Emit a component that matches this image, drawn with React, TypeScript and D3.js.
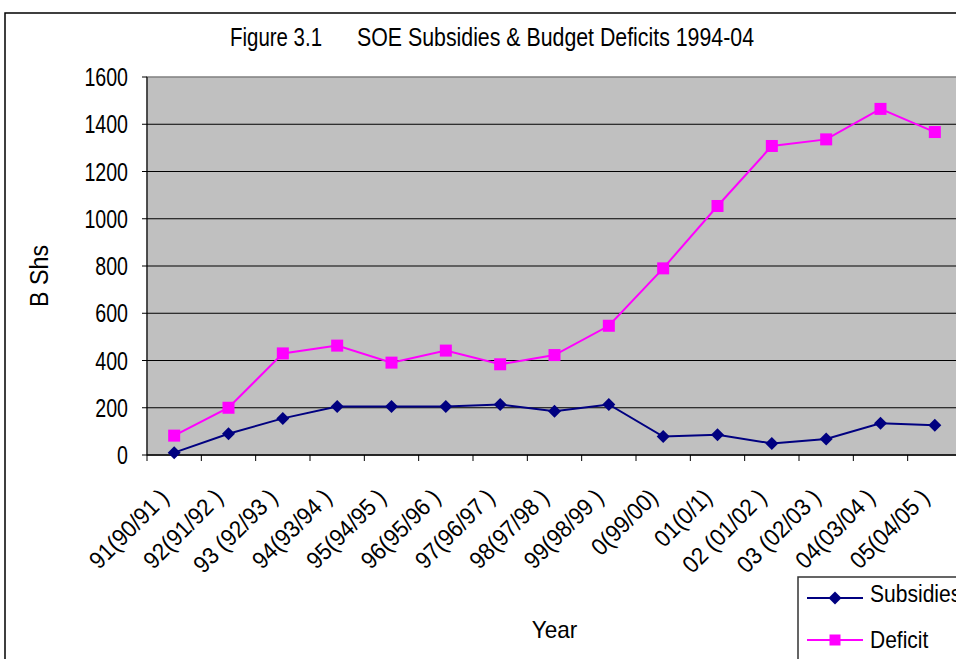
import React from "react";
import * as d3 from "d3";

const categories = [
  "91(90/91 )", "92(91/92 )", "93 (92/93 )", "94(93/94 )", "95(94/95 )",
  "96(95/96 )", "97(96/97 )", "98(97/98 )", "99(98/99 )", "0(99/00)",
  "01(0/1)", "02 (01/02 )", "03 (02/03 )", "04(03/04 )", "05(04/05 )",
];
const subsidies = [10, 90, 155, 205, 205, 205, 214, 185, 214, 78, 86, 49, 68, 134, 126];
const deficit = [82, 200, 430, 463, 391, 442, 384, 423, 547, 790, 1054, 1308, 1336, 1465, 1367];
const yTicks = [0, 200, 400, 600, 800, 1000, 1200, 1400, 1600];

const W = 956;
const H = 659;
const FONT = "'Liberation Sans', Arial, sans-serif";

export default function App() {
  const left = 147;
  const right = 962;
  const top = 77;
  const bottom = 455;

  const x = d3.scaleBand<string>().domain(categories).range([left, right]).padding(0);
  const y = d3.scaleLinear().domain([0, 1600]).range([bottom, top]);
  const cx = (c: string) => (x(c) as number) + x.bandwidth() / 2;

  const line = d3
    .line<number>()
    .x((_, i) => cx(categories[i]))
    .y((d) => y(d));

  const diamond = (px: number, py: number, r: number) =>
    `M${px},${py - r}L${px + r},${py}L${px},${py + r}L${px - r},${py}Z`;

  return (
    <svg
      width={W}
      height={H}
      style={{ position: "absolute", left: 0, top: 0, background: "#fff" }}
      fontFamily={FONT}
    >
      <rect x={0} y={0} width={W} height={H} fill="#fff" />
      {/* outer chart border */}
      <rect x={5} y={13} width={W + 20} height={H + 20} fill="none" stroke="#000" strokeWidth={1.5} />

      {/* title */}
      <text x={230} y={46} fontSize={25} fill="#000" textLength={92} lengthAdjust="spacingAndGlyphs">
        Figure 3.1
      </text>
      <text x={357} y={46} fontSize={25} fill="#000" textLength={397} lengthAdjust="spacingAndGlyphs">
        SOE Subsidies &amp; Budget Deficits 1994-04
      </text>

      {/* plot area */}
      <rect x={left} y={top} width={right - left} height={bottom - top} fill="#c0c0c0" stroke="#808080" strokeWidth={1.5} />

      {/* gridlines */}
      {yTicks.filter((t) => t > 0 && t < 1600).map((t) => (
        <line key={t} x1={left} x2={right} y1={y(t)} y2={y(t)} stroke="#000" strokeWidth={1} />
      ))}

      {/* y axis */}
      <line x1={left} x2={left} y1={top} y2={bottom} stroke="#000" strokeWidth={1} />
      {yTicks.map((t) => (
        <g key={t}>
          <line x1={left - 5} x2={left} y1={y(t)} y2={y(t)} stroke="#000" />
          <text
            x={128}
            y={y(t) + 9}
            textAnchor="end"
            fontSize={25}
            fill="#000"
            textLength={String(t).length * 10.9}
            lengthAdjust="spacingAndGlyphs"
          >
            {t}
          </text>
        </g>
      ))}

      {/* x axis */}
      <line x1={left} x2={right} y1={bottom} y2={bottom} stroke="#000" strokeWidth={1.5} />
      {categories.map((c, i) => (
        <line key={"t" + i} x1={x(c) as number} x2={x(c) as number} y1={bottom} y2={bottom + 6} stroke="#000" />
      ))}
      {categories.map((c, i) => (
        <text
          key={"l" + i}
          transform={`translate(${cx(c) - 4},${499}) rotate(-45) scale(0.92,1)`}
          textAnchor="end"
          fontSize={24}
          fill="#000"
          style={{ whiteSpace: "pre" }}
        >
          {c}
        </text>
      ))}

      {/* axis titles */}
      <text
        transform={`translate(48,276) rotate(-90)`}
        textAnchor="middle"
        fontSize={25}
        fill="#000"
        textLength={62}
        lengthAdjust="spacingAndGlyphs"
      >
        B Shs
      </text>
      <text x={531.7} y={638} fontSize={24} fill="#000" textLength={45.6} lengthAdjust="spacingAndGlyphs">
        Year
      </text>

      {/* series */}
      <path d={line(subsidies) || ""} fill="none" stroke="#000080" strokeWidth={2} />
      <path d={line(deficit) || ""} fill="none" stroke="#ff00ff" strokeWidth={2} />
      {subsidies.map((v, i) => (
        <path key={"s" + i} d={diamond(cx(categories[i]), y(v), 6.5)} fill="#000080" />
      ))}
      {deficit.map((v, i) => (
        <rect key={"d" + i} x={cx(categories[i]) - 6} y={y(v) - 6} width={12} height={12} fill="#ff00ff" />
      ))}

      {/* legend */}
      <rect x={798} y={577} width={200} height={120} fill="#fff" stroke="#333" strokeWidth={1.5} />
      <line x1={807} x2={863} y1={598} y2={598} stroke="#000080" strokeWidth={2} />
      <path d={diamond(835, 598, 6.5)} fill="#000080" />
      <text x={870} y={602} fontSize={24.5} fill="#000" transform="translate(870,0) scale(0.86,1) translate(-870,0)">
        Subsidies
      </text>
      <line x1={807} x2={863} y1={640} y2={640} stroke="#ff00ff" strokeWidth={2} />
      <rect x={829.5} y={634.5} width={11} height={11} fill="#ff00ff" />
      <text x={870} y={648} fontSize={24.5} fill="#000" textLength={58.3} lengthAdjust="spacingAndGlyphs">
        Deficit
      </text>
    </svg>
  );
}
